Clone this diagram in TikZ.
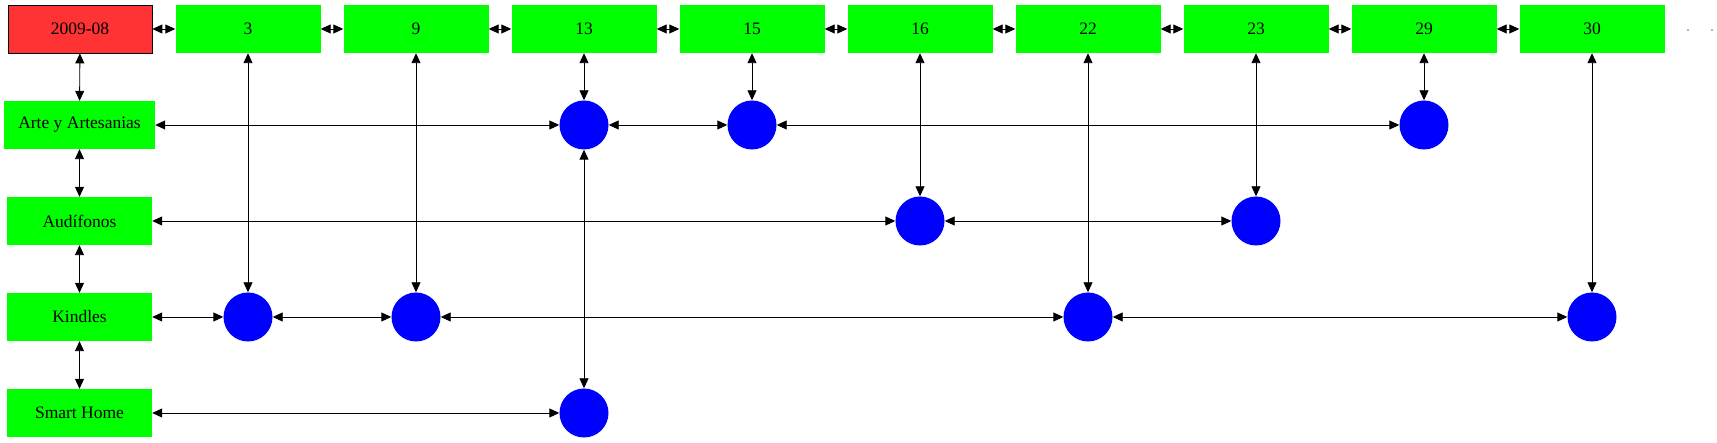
\documentclass[tikz,border=0pt]{standalone}
\usepackage{fontspec}
\setmainfont{Liberation Serif}
\usetikzlibrary{arrows.meta}
\definecolor{gfill}{HTML}{00FF00}
\definecolor{rfill}{HTML}{FF3333}
\definecolor{bfill}{HTML}{0000FF}
\begin{document}
\begin{tikzpicture}[x=1pt,y=-1pt,
  base/.style={inner sep=0pt, minimum height=48pt, font=\fontsize{17.5}{20}\selectfont},
  hdr/.style={base, fill=gfill, minimum width=145pt},
  datebox/.style={base, fill=rfill, draw=black, line width=0.8pt, minimum width=144pt},
  catbox/.style={base, fill=gfill, minimum width=145pt},
  dot/.style={circle, fill=bfill, minimum size=49pt, inner sep=0pt},
  pt/.style={circle, fill=black!60, minimum size=1.6pt, inner sep=0pt},
  lnk/.style={{Triangle[length=10pt,width=9pt]}-{Triangle[length=10pt,width=9pt]}, line width=0.9pt, black}]
\useasboundingbox (0,0) rectangle (1717,443);
% header row
\node[datebox] (d) at (80,29) {2009-08};
\node[hdr] (h3) at (248,29) {3};
\node[hdr] (h9) at (416,29) {9};
\node[hdr] (h13) at (584,29) {13};
\node[hdr] (h15) at (752,29) {15};
\node[hdr] (h16) at (920,29) {16};
\node[hdr] (h22) at (1088,29) {22};
\node[hdr] (h23) at (1256,29) {23};
\node[hdr] (h29) at (1424,29) {29};
\node[hdr] (h30) at (1592,29) {30};
\node[pt] (p1) at (1688,30) {};
\node[pt] (p2) at (1712,30) {};
% categories
\node[catbox, minimum width=151pt] (arte) at (79.5,125) {Arte y Artesanias};
\node[catbox] (aud) at (79.5,221) {Audífonos};
\node[catbox] (kin) at (79.5,317) {Kindles};
\node[catbox] (sh) at (79.5,413) {Smart Home};
% circles
\node[dot] (a13) at (584,125) {};
\node[dot] (a15) at (752,125) {};
\node[dot] (a29) at (1424,125) {};
\node[dot] (u16) at (920,221) {};
\node[dot] (u23) at (1256,221) {};
\node[dot] (k3) at (248,317) {};
\node[dot] (k9) at (416,317) {};
\node[dot] (k22) at (1088,317) {};
\node[dot] (k30) at (1592,317) {};
\node[dot] (s13) at (584,413) {};
% header chain
\draw[lnk] (d) -- (h3);
\draw[lnk] (h3) -- (h9);
\draw[lnk] (h9) -- (h13);
\draw[lnk] (h13) -- (h15);
\draw[lnk] (h15) -- (h16);
\draw[lnk] (h16) -- (h22);
\draw[lnk] (h22) -- (h23);
\draw[lnk] (h23) -- (h29);
\draw[lnk] (h29) -- (h30);
% left chain
\draw[lnk] (d) -- (arte);
\draw[lnk] (arte) -- (aud);
\draw[lnk] (aud) -- (kin);
\draw[lnk] (kin) -- (sh);
% columns
\draw[lnk] (h3) -- (k3);
\draw[lnk] (h9) -- (k9);
\draw[lnk] (h13) -- (a13);
\draw[lnk] (a13) -- (s13);
\draw[lnk] (h15) -- (a15);
\draw[lnk] (h16) -- (u16);
\draw[lnk] (h22) -- (k22);
\draw[lnk] (h23) -- (u23);
\draw[lnk] (h29) -- (a29);
\draw[lnk] (h30) -- (k30);
% rows
\draw[lnk] (arte) -- (a13);
\draw[lnk] (a13) -- (a15);
\draw[lnk] (a15) -- (a29);
\draw[lnk] (aud) -- (u16);
\draw[lnk] (u16) -- (u23);
\draw[lnk] (kin) -- (k3);
\draw[lnk] (k3) -- (k9);
\draw[lnk] (k9) -- (k22);
\draw[lnk] (k22) -- (k30);
\draw[lnk] (sh) -- (s13);
\end{tikzpicture}
\end{document}
